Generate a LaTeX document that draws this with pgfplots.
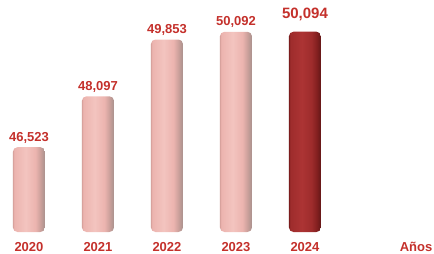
\documentclass[border=0pt]{standalone}
\usepackage{fontspec}
\setmainfont{Liberation Sans}
\usepackage{pgfplots}
\pgfplotsset{compat=1.18}
\definecolor{labred}{HTML}{C4302B}
\definecolor{pinkE}{HTML}{D8A29D}
\definecolor{pinkM}{HTML}{ECB4AF}
\definecolor{pinkH}{HTML}{F3C4BF}
\definecolor{pinkS}{HTML}{CBA09B}
\definecolor{pinkR}{HTML}{A8918D}
\definecolor{redE}{HTML}{7A1C1C}
\definecolor{redM}{HTML}{9E2C2C}
\definecolor{redH}{HTML}{AC3434}
\definecolor{redS}{HTML}{852020}
\definecolor{redR}{HTML}{621717}
\pgfdeclarehorizontalshading{pinkshade}{100bp}{color(0bp)=(pinkE); color(25bp)=(pinkE); color(27bp)=(pinkM); color(45bp)=(pinkH); color(60bp)=(pinkM); color(68bp)=(pinkS); color(75bp)=(pinkR); color(100bp)=(pinkR)}
\pgfdeclarehorizontalshading{redshade}{100bp}{color(0bp)=(redE); color(25bp)=(redE); color(27bp)=(redM); color(45bp)=(redH); color(60bp)=(redM); color(68bp)=(redS); color(75bp)=(redR); color(100bp)=(redR)}
\pgfplotsset{
  pinkbar/.style={bar shift=0pt, draw=none, shading=pinkshade, rounded corners=4.5pt},
  redbar/.style={bar shift=0pt, draw=none, shading=redshade, rounded corners=4.5pt},
}
\begin{document}
\begin{tikzpicture}
\begin{axis}[
  scale only axis,
  width=434pt, height=232pt,
  xmin=-0.42, xmax=5.87,
  ymin=43900, ymax=51075,
  axis line style={draw=none},
  tick style={draw=none},
  ytick=\empty,
  xtick={0,1,2,3,4,5.61},
  xticklabels={2020,2021,2022,2023,2024,Años},
  xticklabel style={font=\bfseries\fontsize{13}{13}\selectfont, text=labred, anchor=base, inner sep=0pt, yshift=-15pt},
  ybar, bar width=32pt,
  nodes near coords,
  every node near coord/.append style={font=\bfseries\fontsize{13}{13}\selectfont, text=labred, anchor=base, inner sep=0pt, yshift=6pt},
  /pgf/number format/.cd, 1000 sep={,}, assume math mode=true,
]
\addplot[pinkbar] coordinates {(0,46523)};
\addplot[pinkbar] coordinates {(1,48097)};
\addplot[pinkbar] coordinates {(2,49853)};
\addplot[pinkbar] coordinates {(3,50092)};
\addplot[redbar,
  every node near coord/.append style={font=\bfseries\fontsize{15}{15}\selectfont, yshift=7.5pt}]
  coordinates {(4,50094)};
\coordinate (bl) at (rel axis cs:0,0);
\coordinate (tr) at (rel axis cs:1,1);
\end{axis}
\pgfresetboundingbox
\path ([yshift=-21pt]bl) rectangle (tr);
\end{tikzpicture}
\end{document}
